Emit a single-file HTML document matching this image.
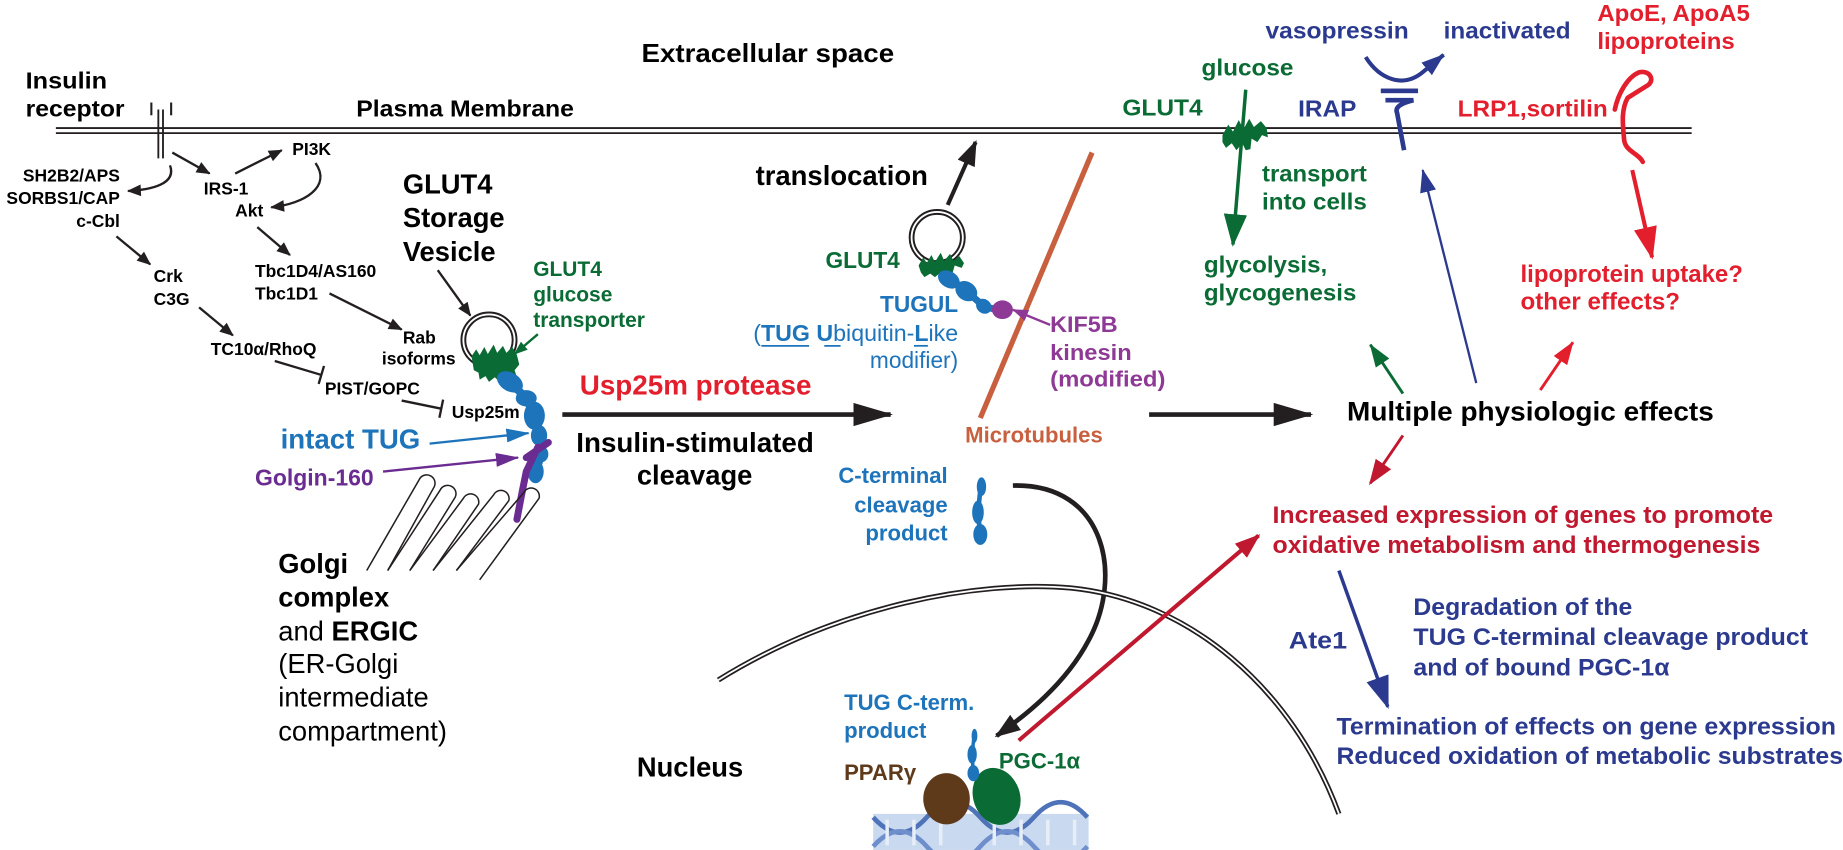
<!DOCTYPE html>
<html><head><meta charset="utf-8"><style>
html,body{margin:0;padding:0;background:#fff;}
svg{display:block;}
text{font-family:"Liberation Sans",Arial,sans-serif;font-weight:bold;}
.n{font-family:"Liberation Sans Narrow","Liberation Sans",sans-serif;font-weight:bold;}
.r{font-weight:normal;}
</style></head><body>
<svg width="1843" height="850" viewBox="0 0 1583 730" xmlns="http://www.w3.org/2000/svg">
<defs>
<marker id="k" viewBox="0 0 12 10" refX="11" refY="5" markerWidth="13" markerHeight="10" markerUnits="userSpaceOnUse" orient="auto"><path d="M0,0 L12,5 L0,10z" fill="#231f20"/></marker>
<marker id="K" viewBox="0 0 34 20" refX="32" refY="10" markerWidth="34" markerHeight="20" markerUnits="userSpaceOnUse" orient="auto"><path d="M0,0 L34,10 L0,20z" fill="#231f20"/></marker>
<marker id="Km" viewBox="0 0 22 16" refX="20" refY="8" markerWidth="22" markerHeight="16" markerUnits="userSpaceOnUse" orient="auto"><path d="M0,0 L22,8 L0,16z" fill="#231f20"/></marker>
<marker id="g" viewBox="0 0 28 20" refX="26" refY="10" markerWidth="28" markerHeight="20" markerUnits="userSpaceOnUse" orient="auto"><path d="M0,0 L28,10 L0,20z" fill="#0a6b35"/></marker>
<marker id="gs" viewBox="0 0 20 14" refX="19" refY="7" markerWidth="20" markerHeight="14" markerUnits="userSpaceOnUse" orient="auto"><path d="M0,0 L20,7 L0,14z" fill="#0a6b35"/></marker>
<marker id="gt" viewBox="0 0 12 9" refX="11" refY="4.5" markerWidth="12" markerHeight="9" markerUnits="userSpaceOnUse" orient="auto"><path d="M0,0 L12,4.5 L0,9z" fill="#0a6b35"/></marker>
<marker id="v" viewBox="0 0 20 14" refX="19" refY="7" markerWidth="20" markerHeight="14" markerUnits="userSpaceOnUse" orient="auto"><path d="M0,0 L20,7 L0,14z" fill="#2b3a8f"/></marker>
<marker id="vb" viewBox="0 0 28 20" refX="26" refY="10" markerWidth="28" markerHeight="20" markerUnits="userSpaceOnUse" orient="auto"><path d="M0,0 L28,10 L0,20z" fill="#2b3a8f"/></marker>
<marker id="r" viewBox="0 0 28 20" refX="26" refY="10" markerWidth="28" markerHeight="20" markerUnits="userSpaceOnUse" orient="auto"><path d="M0,0 L28,10 L0,20z" fill="#e31e2d"/></marker>
<marker id="rs" viewBox="0 0 20 14" refX="19" refY="7" markerWidth="20" markerHeight="14" markerUnits="userSpaceOnUse" orient="auto"><path d="M0,0 L20,7 L0,14z" fill="#e31e2d"/></marker>
<marker id="d" viewBox="0 0 22 16" refX="20" refY="8" markerWidth="22" markerHeight="16" markerUnits="userSpaceOnUse" orient="auto"><path d="M0,0 L22,8 L0,16z" fill="#c0182f"/></marker>
<marker id="b" viewBox="0 0 20 12" refX="19" refY="6" markerWidth="20" markerHeight="12" markerUnits="userSpaceOnUse" orient="auto"><path d="M0,0 L20,6 L0,12z" fill="#1e74bb"/></marker>
<marker id="p" viewBox="0 0 20 12" refX="19" refY="6" markerWidth="20" markerHeight="12" markerUnits="userSpaceOnUse" orient="auto"><path d="M0,0 L20,6 L0,12z" fill="#6a2c91"/></marker>
<marker id="pk" viewBox="0 0 14 10" refX="13" refY="5" markerWidth="14" markerHeight="10" markerUnits="userSpaceOnUse" orient="auto"><path d="M0,0 L14,5 L0,10z" fill="#8e3996"/></marker>
</defs>

<line x1="48" y1="110" x2="1453" y2="110" stroke="#231f20" stroke-width="1.6"/>
<line x1="48" y1="114.3" x2="1453" y2="114.3" stroke="#231f20" stroke-width="1.6"/>

<line x1="136" y1="94" x2="136" y2="136" stroke="#231f20" stroke-width="1.6"/>
<line x1="140" y1="94" x2="140" y2="136" stroke="#231f20" stroke-width="1.6"/>
<line x1="130" y1="88" x2="130" y2="99" stroke="#231f20" stroke-width="1.8"/>
<line x1="147" y1="88" x2="147" y2="99" stroke="#231f20" stroke-width="1.8"/>

<text x="551" y="53" font-size="22" textLength="217" lengthAdjust="spacingAndGlyphs">Extracellular space</text>
<text x="22" y="76" font-size="20" textLength="70" lengthAdjust="spacingAndGlyphs">Insulin</text>
<text x="22" y="100" font-size="20" textLength="85" lengthAdjust="spacingAndGlyphs">receptor</text>
<text x="306" y="100" font-size="20" textLength="187" lengthAdjust="spacingAndGlyphs">Plasma Membrane</text>

<g font-size="15">
<text x="103" y="156" text-anchor="end">SH2B2/APS</text>
<text x="103" y="175" text-anchor="end">SORBS1/CAP</text>
<text x="103" y="195" text-anchor="end">c-Cbl</text>
<text x="175" y="167">IRS-1</text>
<text x="251" y="133">PI3K</text>
<text x="202" y="186">Akt</text>
<text x="219" y="238">Tbc1D4/AS160</text>
<text x="219" y="257">Tbc1D1</text>
<text x="132" y="242">Crk</text>
<text x="132" y="262">C3G</text>
<text x="346" y="295">Rab</text>
<text x="328" y="313">isoforms</text>
<text x="181" y="305">TC10α/RhoQ</text>
<text x="279" y="339">PIST/GOPC</text>
<text x="388" y="359">Usp25m</text>
</g>
<g stroke="#231f20" stroke-width="2" fill="none" marker-end="url(#k)">
<line x1="148" y1="131" x2="180" y2="149"/>
<line x1="202" y1="149" x2="242" y2="129"/>
<path d="M271,140 C285,160 262,175 233,178"/>
<path d="M146,142 C152,158 130,163 110,164"/>
<line x1="221" y1="195" x2="249" y2="219"/>
<line x1="100" y1="203" x2="129" y2="227"/>
<line x1="171" y1="264" x2="200" y2="288"/>
<line x1="283" y1="252" x2="345" y2="283"/>
<line x1="376" y1="232" x2="404" y2="271"/>
</g>
<g stroke="#231f20" stroke-width="2">
<line x1="236" y1="310" x2="276" y2="322"/><line x1="278.3" y1="314.3" x2="273.7" y2="329.7"/>
<line x1="345" y1="344" x2="379" y2="351"/><line x1="380.6" y1="343.2" x2="377.4" y2="358.8"/>
</g>

<text x="346" y="166" font-size="23.5">GLUT4</text>
<text x="346" y="195" font-size="23.5">Storage</text>
<text x="346" y="224" font-size="23.5">Vesicle</text>
<circle cx="420" cy="292" r="22" fill="none" stroke="#231f20" stroke-width="5"/>
<circle cx="420" cy="292" r="22" fill="none" stroke="#fff" stroke-width="1.6"/>
<path d="M405,306 l4,-6 l3,5 l4,-7 l3,6 l5,-8 l3,7 l5,-6 l3,6 l5,-5 l4,7 l2,8 l-4,5 l2,6 l-6,2 l-4,-3 l-5,5 l-4,-4 l-5,4 l-3,-5 l-5,3 l-1,-6 l-4,-2z" fill="#0a6b35"/>
<g fill="#1e74bb">
<ellipse cx="438" cy="328" rx="12" ry="8" transform="rotate(30 438 328)"/>
<ellipse cx="452" cy="342" rx="9" ry="7"/>
<ellipse cx="459" cy="357" rx="9" ry="12"/>
<ellipse cx="463" cy="374" rx="7" ry="9"/>
<ellipse cx="465" cy="390" rx="6" ry="7"/>
<ellipse cx="460" cy="405" rx="7" ry="10"/>
</g>
<path d="M438,328 L452,342 L459,357 L463,374 L465,390 L460,405" stroke="#1e74bb" stroke-width="7" fill="none"/>
<path d="M471,380 L452,393 M462,384 L452,405 L448,425 L444,446" stroke="#6a2c91" stroke-width="6" fill="none" stroke-linecap="round"/>
<text x="458" y="237" font-size="18" fill="#0a6b35">GLUT4</text>
<text x="458" y="259" font-size="18" fill="#0a6b35">glucose</text>
<text x="458" y="281" font-size="18" fill="#0a6b35">transporter</text>
<line x1="462" y1="287" x2="442" y2="304" stroke="#0a6b35" stroke-width="2" marker-end="url(#gt)"/>

<text x="241" y="385" font-size="23.5" fill="#1e74bb" textLength="120" lengthAdjust="spacingAndGlyphs">intact TUG</text>
<line x1="369" y1="381" x2="454" y2="372" stroke="#1e74bb" stroke-width="2" marker-end="url(#b)"/>
<text x="219" y="417" font-size="19.5" fill="#6a2c91" textLength="102" lengthAdjust="spacingAndGlyphs">Golgin-160</text>
<line x1="329" y1="405" x2="445" y2="393" stroke="#6a2c91" stroke-width="2" marker-end="url(#p)"/>

<g fill="none" stroke="#231f20" stroke-width="1.3">
<path d="M315,490 L360,412 A7,7 0 0 1 373,418 L333,490"/>
<path d="M333,490 L378,421 A7,7 0 0 1 391,427 L352,490"/>
<path d="M352,490 L398,428 A7,7 0 0 1 411,433 L372,490"/>
<path d="M372,490 L424,425 A7,7 0 0 1 437,430 L392,490"/>
<path d="M392,490 L450,423 A7,7 0 0 1 463,428 L412,498"/>
</g>
<text x="239" y="492" font-size="23.5">Golgi</text>
<text x="239" y="521" font-size="23.5">complex</text>
<text x="239" y="550" font-size="23.5"><tspan style="font-weight:normal">and </tspan>ERGIC</text>
<text x="239" y="578" font-size="23.5" style="font-weight:normal">(ER-Golgi</text>
<text x="239" y="607" font-size="23.5" style="font-weight:normal">intermediate</text>
<text x="239" y="636" font-size="23.5" style="font-weight:normal">compartment)</text>

<text x="498" y="339" font-size="23.5" fill="#e31e2d" textLength="199" lengthAdjust="spacingAndGlyphs">Usp25m protease</text>
<line x1="483" y1="356" x2="765" y2="356" stroke="#231f20" stroke-width="4" marker-end="url(#K)"/>
<text x="495" y="388" font-size="23.5" textLength="204" lengthAdjust="spacingAndGlyphs">Insulin-stimulated</text>
<text x="547" y="416" font-size="23.5">cleavage</text>

<text x="649" y="159" font-size="23.5" textLength="148" lengthAdjust="spacingAndGlyphs">translocation</text>
<line x1="814" y1="176" x2="838" y2="122" stroke="#231f20" stroke-width="3.5" marker-end="url(#Km)"/>
<circle cx="805" cy="204" r="22" fill="none" stroke="#231f20" stroke-width="5"/>
<circle cx="805" cy="204" r="22" fill="none" stroke="#fff" stroke-width="1.6"/>
<path d="M789,228 l4,-7 l3,5 l4,-7 l3,6 l5,-8 l3,7 l5,-6 l3,6 l5,-4 l4,6 l-2,4 l-6,-2 l-2,7 l-6,2 l-4,-3 l-5,4 l-4,-3 l-5,3 l-3,-4z" fill="#0a6b35"/>
<g fill="#1e74bb">
<ellipse cx="815" cy="240" rx="10" ry="7" transform="rotate(30 815 240)"/>
<ellipse cx="830" cy="250" rx="10" ry="8" transform="rotate(35 830 250)"/>
<ellipse cx="845" cy="263" rx="7" ry="6" transform="rotate(40 845 263)"/>
</g>
<path d="M815,240 L830,250 L845,263 L856,266" stroke="#1e74bb" stroke-width="6" fill="none"/>
<ellipse cx="861" cy="266" rx="9" ry="8" fill="#8e3996"/>
<text x="709" y="230" font-size="19.5" fill="#0a6b35">GLUT4</text>
<text x="823" y="268" font-size="19.5" fill="#1e74bb" text-anchor="end">TUGUL</text>
<text x="823" y="293" font-size="19.5" fill="#1e74bb" text-anchor="end" style="font-weight:normal" textLength="176" lengthAdjust="spacingAndGlyphs">(<tspan style="font-weight:bold">TUG</tspan> <tspan style="font-weight:bold">U</tspan>biquitin-<tspan style="font-weight:bold">L</tspan>ike</text>
<g stroke="#1e74bb" stroke-width="1.5"><line x1="654" y1="297" x2="695" y2="297"/><line x1="708" y1="297" x2="722" y2="297"/><line x1="785" y1="297" x2="797" y2="297"/></g>
<text x="823" y="316" font-size="19.5" fill="#1e74bb" text-anchor="end" style="font-weight:normal">modifier)</text>
<line x1="938" y1="131" x2="842" y2="359" stroke="#c8603f" stroke-width="4.5"/>
<text x="902" y="285" font-size="19" fill="#8e3996" class="n" textLength="58" lengthAdjust="spacingAndGlyphs">KIF5B</text>
<text x="902" y="309" font-size="19" fill="#8e3996" class="n" textLength="70" lengthAdjust="spacingAndGlyphs">kinesin</text>
<text x="902" y="332" font-size="19" fill="#8e3996" class="n" textLength="99" lengthAdjust="spacingAndGlyphs">(modified)</text>
<line x1="902" y1="279" x2="870" y2="266" stroke="#8e3996" stroke-width="2" marker-end="url(#pk)"/>
<text x="829" y="380" font-size="19" fill="#c8603f">Microtubules</text>

<text x="814" y="415" font-size="19" fill="#1e74bb" text-anchor="end">C-terminal</text>
<text x="814" y="440" font-size="19" fill="#1e74bb" text-anchor="end">cleavage</text>
<text x="814" y="464" font-size="19" fill="#1e74bb" text-anchor="end">product</text>
<g fill="#1e74bb">
<ellipse cx="843" cy="418" rx="4" ry="8"/>
<ellipse cx="840" cy="440" rx="5" ry="10"/>
<ellipse cx="842" cy="459" rx="6" ry="9"/>
</g>
<path d="M843,412 L840,440 L842,459" stroke="#1e74bb" stroke-width="4" fill="none"/>
<path d="M870,417 C950,415 965,495 935,550 C915,588 880,615 856,632" fill="none" stroke="#231f20" stroke-width="4" marker-end="url(#Km)"/>

<line x1="987" y1="356" x2="1126" y2="356" stroke="#231f20" stroke-width="4" marker-end="url(#K)"/>

<path d="M617,584 C720,520 840,498 920,505 C1020,515 1110,590 1150,699" fill="none" stroke="#231f20" stroke-width="4.5"/>
<path d="M617,584 C720,520 840,498 920,505 C1020,515 1110,590 1150,699" fill="none" stroke="#fff" stroke-width="1.5"/>
<text x="547" y="667" font-size="23.5">Nucleus</text>
<text x="725" y="610" font-size="19" fill="#1e74bb">TUG C-term.</text>
<text x="725" y="634" font-size="19" fill="#1e74bb">product</text>
<text x="725" y="670" font-size="19" fill="#5e3a1b">PPARγ</text>
<text x="858" y="660" font-size="19" fill="#0a6b35">PGC-1α</text>
<rect x="750" y="699" width="185" height="31" fill="#c9d9ef"/>
<path d="M750,702 q23,26 46,0 t46,0 t46,0 t46,0" fill="none" stroke="#4f73b8" stroke-width="4"/>
<path d="M750,727 q23,-26 46,0 t46,0 t46,0 t46,0" fill="none" stroke="#6f8fcc" stroke-width="4"/>
<g stroke="#e8eef8" stroke-width="3"><line x1="762" y1="704" x2="762" y2="726"/><line x1="785" y1="704" x2="785" y2="726"/><line x1="808" y1="704" x2="808" y2="726"/><line x1="854" y1="704" x2="854" y2="726"/><line x1="877" y1="704" x2="877" y2="726"/><line x1="900" y1="704" x2="900" y2="726"/><line x1="923" y1="704" x2="923" y2="726"/></g>
<ellipse cx="813" cy="686" rx="20" ry="22" fill="#5e3a1b"/>
<ellipse cx="856" cy="684" rx="20" ry="25" fill="#0a6b35" transform="rotate(-20 856 684)"/>
<g fill="#1e74bb"><ellipse cx="837" cy="632" rx="2.5" ry="6"/><ellipse cx="835" cy="648" rx="4" ry="8"/><ellipse cx="836" cy="664" rx="5" ry="7"/></g>
<path d="M837,628 L835,648 L836,664" stroke="#1e74bb" stroke-width="3" fill="none"/>
<line x1="875" y1="636" x2="1081" y2="460" stroke="#c0182f" stroke-width="3.5" marker-end="url(#d)"/>

<text x="1032" y="65" font-size="20" fill="#0a6b35" textLength="79" lengthAdjust="spacingAndGlyphs">glucose</text>
<text x="964" y="99" font-size="20" fill="#0a6b35" textLength="69" lengthAdjust="spacingAndGlyphs">GLUT4</text>
<path d="M1050,116 l5,-9 l4,6 l5,-10 l4,8 l5,-9 l4,7 l6,-5 l5,6 l1,8 l-5,-2 l-4,6 l-5,-3 l-1,9 l-4,1 l-3,-6 l-5,6 l-4,-6 l-5,4 l-3,-5z" fill="#0a6b35"/>
<line x1="1070" y1="77" x2="1059" y2="210" stroke="#0a6b35" stroke-width="3" marker-end="url(#g)"/>
<text x="1084" y="156" font-size="20" fill="#0a6b35" textLength="90" lengthAdjust="spacingAndGlyphs">transport</text>
<text x="1084" y="180" font-size="20" fill="#0a6b35" textLength="90" lengthAdjust="spacingAndGlyphs">into cells</text>
<text x="1034" y="234" font-size="20" fill="#0a6b35" class="n" textLength="106" lengthAdjust="spacingAndGlyphs">glycolysis,</text>
<text x="1034" y="258" font-size="20" fill="#0a6b35" class="n" textLength="131" lengthAdjust="spacingAndGlyphs">glycogenesis</text>

<text x="1087" y="33" font-size="20" fill="#2b3a8f" textLength="123" lengthAdjust="spacingAndGlyphs">vasopressin</text>
<text x="1240" y="33" font-size="20" fill="#2b3a8f" textLength="109" lengthAdjust="spacingAndGlyphs">inactivated</text>
<text x="1115" y="100" font-size="20" fill="#2b3a8f" textLength="50" lengthAdjust="spacingAndGlyphs">IRAP</text>
<path d="M1173,49 C1185,68 1205,76 1222,62 L1240,47" fill="none" stroke="#2b3a8f" stroke-width="3.5" marker-end="url(#v)"/>
<rect x="1186" y="76" width="32" height="4" fill="#2b3a8f"/>
<path d="M1190,86 L1214,86 Q1197,90 1200,97 L1206,129" fill="none" stroke="#2b3a8f" stroke-width="4"/>
<line x1="1268" y1="329" x2="1222" y2="146" stroke="#2b3a8f" stroke-width="2" marker-end="url(#v)"/>

<text x="1372" y="18" font-size="20" fill="#e31e2d" textLength="131" lengthAdjust="spacingAndGlyphs">ApoE, ApoA5</text>
<text x="1372" y="42" font-size="20" fill="#e31e2d" textLength="118" lengthAdjust="spacingAndGlyphs">lipoproteins</text>
<text x="1252" y="100" font-size="20" fill="#e31e2d" textLength="129" lengthAdjust="spacingAndGlyphs">LRP1,sortilin</text>
<path d="M1387,94 C1390,80 1398,66 1408,62 C1418,60 1422,70 1414,74 L1398,84 C1392,95 1394,108 1395,120 C1396,130 1408,132 1411,139" fill="none" stroke="#e31e2d" stroke-width="4" stroke-linejoin="round" stroke-linecap="round"/>
<line x1="1402" y1="146" x2="1419" y2="221" stroke="#e31e2d" stroke-width="3.5" marker-end="url(#r)"/>
<text x="1306" y="242" font-size="21" fill="#e31e2d" class="n" textLength="191" lengthAdjust="spacingAndGlyphs">lipoprotein uptake?</text>
<text x="1306" y="266" font-size="21" fill="#e31e2d" class="n" textLength="137" lengthAdjust="spacingAndGlyphs">other effects?</text>

<text x="1157" y="361" font-size="23" class="n" textLength="315" lengthAdjust="spacingAndGlyphs">Multiple physiologic effects</text>
<line x1="1205" y1="338" x2="1177" y2="296" stroke="#0a6b35" stroke-width="2.5" marker-end="url(#gs)"/>
<line x1="1323" y1="335" x2="1351" y2="294" stroke="#e31e2d" stroke-width="2.5" marker-end="url(#rs)"/>
<line x1="1205" y1="374" x2="1177" y2="415" stroke="#c0182f" stroke-width="2.5" marker-end="url(#d)"/>
<text x="1093" y="449" font-size="21" fill="#c0182f" class="n" textLength="430" lengthAdjust="spacingAndGlyphs">Increased expression of genes to promote</text>
<text x="1093" y="475" font-size="21" fill="#c0182f" class="n" textLength="419" lengthAdjust="spacingAndGlyphs">oxidative metabolism and thermogenesis</text>
<line x1="1150" y1="490" x2="1192" y2="607" stroke="#2b3a8f" stroke-width="3" marker-end="url(#vb)"/>
<text x="1107" y="557" font-size="21" fill="#2b3a8f" class="n" textLength="50" lengthAdjust="spacingAndGlyphs">Ate1</text>
<text x="1214" y="528" font-size="21" fill="#2b3a8f" class="n" textLength="188" lengthAdjust="spacingAndGlyphs">Degradation of the</text>
<text x="1214" y="554" font-size="21" fill="#2b3a8f" class="n" textLength="339" lengthAdjust="spacingAndGlyphs">TUG C-terminal cleavage product</text>
<text x="1214" y="580" font-size="21" fill="#2b3a8f" class="n" textLength="220" lengthAdjust="spacingAndGlyphs">and of bound PGC-1α</text>
<text x="1148" y="631" font-size="21" fill="#2b3a8f" class="n" textLength="429" lengthAdjust="spacingAndGlyphs">Termination of effects on gene expression</text>
<text x="1148" y="656" font-size="21" fill="#2b3a8f" class="n" textLength="435" lengthAdjust="spacingAndGlyphs">Reduced oxidation of metabolic substrates</text>
</svg>
</body></html>
